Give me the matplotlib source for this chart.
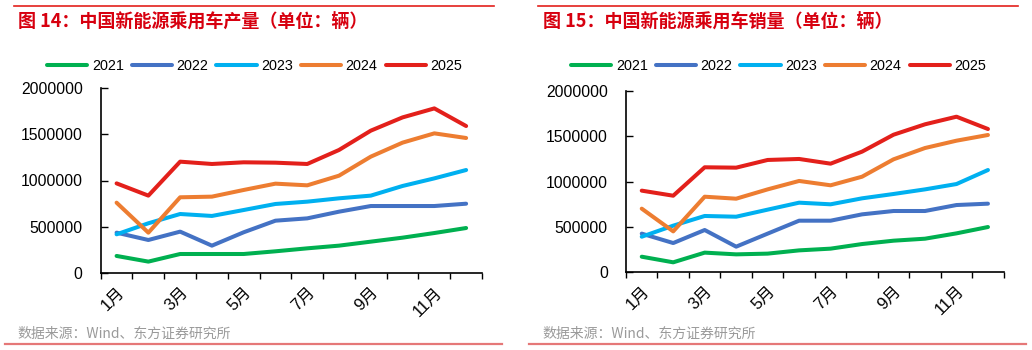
import matplotlib
matplotlib.use("Agg")
import matplotlib.pyplot as plt
from matplotlib.lines import Line2D
import numpy as np

plt.rcParams['font.family'] = ['Liberation Sans', 'Noto Sans CJK SC', 'DejaVu Sans']

months = ["1月", "2月", "3月", "4月", "5月", "6月", "7月", "8月", "9月", "10月", "11月", "12月"]
years = ["2021", "2022", "2023", "2024", "2025"]

prod_2021 = [187000, 126000, 208000, 208000, 208000, 237000, 269000, 298000, 341000, 384000, 434000, 488000]
prod_2022 = [438000, 359000, 449000, 298000, 442000, 567000, 592000, 664000, 725000, 725000, 725000, 750000]
prod_2023 = [420000, 539000, 639000, 618000, 682000, 747000, 772000, 808000, 837000, 941000, 1023000, 1113000]
prod_2024 = [761000, 438000, 819000, 826000, 898000, 966000, 948000, 1052000, 1257000, 1408000, 1508000, 1458000]
prod_2025 = [969000, 837000, 1203000, 1178000, 1196000, 1192000, 1178000, 1329000, 1537000, 1680000, 1777000, 1587000]

sales_2021 = [169000, 107000, 214000, 195000, 203000, 239000, 258000, 309000, 346000, 368000, 427000, 497000]
sales_2022 = [424000, 320000, 464000, 280000, 424000, 567000, 567000, 637000, 674000, 674000, 740000, 755000]
sales_2023 = [390000, 512000, 619000, 611000, 689000, 766000, 748000, 814000, 862000, 913000, 972000, 1127000]
sales_2024 = [700000, 449000, 832000, 810000, 913000, 1006000, 958000, 1053000, 1245000, 1370000, 1451000, 1514000]
sales_2025 = [899000, 843000, 1157000, 1153000, 1238000, 1249000, 1197000, 1330000, 1517000, 1632000, 1716000, 1580000]

yticks = [0, 500000, 1000000, 1500000, 2000000]
colors = ["#00B050", "#4472C4", "#00B0F0", "#ED7D31", "#E3201B"]

fig = plt.figure(figsize=(10.32, 3.5), dpi=100)

def panel(rect, series, title, line_top, line_bot, title_x, legend_x):
    ax = fig.add_axes(rect)
    x = np.arange(len(months)) + 0.5
    for s, c, lab in zip(series, colors, years):
        ax.plot(x, s, color=c, lw=2.9, label=lab, solid_capstyle='round', solid_joinstyle='round')
    ax.set_xlim(0, 12)
    ax.set_ylim(0, 2000000)
    ax.set_yticks(yticks)
    ax.set_yticklabels([str(v) for v in yticks])
    ax.tick_params(axis='y', direction='in', length=5, width=1, pad=13, labelsize=11.3, colors='black')
    ax.set_xticks(np.arange(0, 13))
    ax.set_xticklabels([])
    ax.tick_params(axis='x', which='major', direction='out', length=4, width=1)
    ax.set_xticks(x[::2], minor=True)
    ax.set_xticklabels(months[::2], minor=True, rotation=45, ha='right', va='top',
                       rotation_mode='anchor', fontsize=12)
    ax.tick_params(axis='x', which='minor', length=0, pad=8)
    for sp in ['top', 'right']:
        ax.spines[sp].set_visible(False)
    for sp in ['left', 'bottom']:
        ax.spines[sp].set_linewidth(1.2)
    handles = [Line2D([], [], color=c, lw=2.9, solid_capstyle='round') for c in colors]
    fig.legend(handles, years, loc='center left', bbox_to_anchor=(legend_x, 0.811), ncol=5,
               frameon=False, fontsize=10.4, handlelength=2.8, handletextpad=0.3,
               columnspacing=0.55, borderpad=0, borderaxespad=0)
    fig.add_artist(Line2D(line_top[0], [1 - 6 / 350] * 2, color='#E3201B', lw=1.2))
    fig.add_artist(Line2D(line_bot[0], [1 - 344 / 350] * 2, color='#E57878', lw=1.6))
    fig.text(title_x, 1 - 21 / 350, title, color='#D7000F', fontsize=13, fontweight='bold',
             ha='left', va='center', family=['Noto Sans CJK SC', 'DejaVu Sans'])
    fig.text(title_x - 1 / 1032, 1 - 334 / 350, "数据来源：Wind、东方证券研究所", color='#9A9A9A', fontsize=10,
             ha='left', va='center', family=['Noto Sans CJK SC', 'DejaVu Sans'])
    return ax

panel([100.7 / 1032, 1 - 273.3 / 350, (482 - 100.7) / 1032, (273.3 - 87.7) / 350],
      [prod_2021, prod_2022, prod_2023, prod_2024, prod_2025],
      "图 14：中国新能源乘用车产量（单位：辆）",
      ([14 / 1032, 494 / 1032],), ([5 / 1032, 502 / 1032],), 18 / 1032, 47 / 1032)

panel([626 / 1032, 1 - 272 / 350, (1003.7 - 626) / 1032, (272 - 91) / 350],
      [sales_2021, sales_2022, sales_2023, sales_2024, sales_2025],
      "图 15：中国新能源乘用车销量（单位：辆）",
      ([538 / 1032, 1018 / 1032],), ([529 / 1032, 1026 / 1032],), 543 / 1032, 571 / 1032)

fig.savefig("out.png", dpi=100)
